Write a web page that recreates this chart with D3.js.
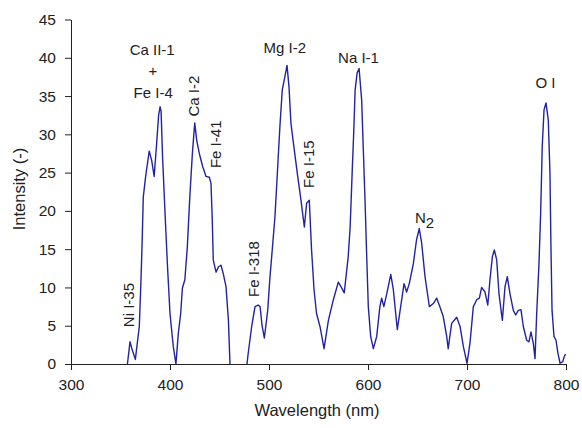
<!DOCTYPE html>
<html>
<head>
<meta charset="utf-8">
<script src="https://cdn.jsdelivr.net/npm/d3@7"></script>
<style>
  body { margin: 0; background: #fff; }
  svg text { font-family: "Liberation Sans", Arial, sans-serif; fill: #222; }
</style>
</head>
<body>
<svg class="chart"></svg>
<script>
// spectrum
var wavelength = [357, 359.6, 361.5, 365, 369, 370.7, 372, 373, 375.4, 379, 381.5, 384, 386.5, 388.5, 390, 391,
  392.5, 395, 397.3, 400, 403.3, 406, 408.4, 410.8, 412.5, 415, 417.5, 420, 422.6, 425, 427, 429.6, 433, 436.4,
  439.7, 441.4, 442.7, 443.7, 446.5, 449, 451.5, 453.8, 456.6, 459, 460.6, 463, 476, 479, 482.5, 485.9, 489, 491,
  493, 495.3, 498.7, 501, 502.7, 506, 508.8, 511, 513.4, 516, 518.2, 520.2, 522.2, 525.6, 529, 532.3, 535.7, 538,
  540.7, 543, 545.5, 548, 551.5, 555.6, 560, 565, 570, 572.7, 576, 580, 582, 584, 585.5, 587, 589, 591, 593.6,
  595.3, 597, 598.7, 600.3, 602.7, 605.4, 608.8, 612, 613.8, 616, 619, 623, 625.6, 629.6, 633, 636.4, 639, 641.7,
  645.8, 649, 651.8, 654.2, 657.6, 662, 666, 669.4, 672, 676, 679.5, 681, 684.5, 689.6, 693, 696.3, 700, 703,
  706.4, 709.8, 712.5, 714.8, 718.2, 721, 723.2, 725.6, 727.6, 730, 732.3, 735.7, 738.4, 740.7, 743.4, 746.8,
  749.2, 751.8, 754.5, 756.9, 760.3, 762.6, 764.6, 767, 768.7, 770.4, 772.7, 774.4, 776, 777.8, 779.8, 782.1,
  783.8, 784.8, 785.9, 787.9, 789.9, 791.9, 794, 796.7, 798.3, 799.5];
var intensity = [0, 2.9, 2.0, 0.6, 4.9, 11, 16.6, 21.8, 24.5, 27.8, 26.6, 24.5, 28.8, 32.5, 33.6, 33,
  27, 19.7, 13.2, 6.6, 2.3, 0, 4, 6.6, 9.9, 11, 15.3, 21.8, 27.5, 31.5, 29.2, 27.5, 25.8, 24.5,
  24.4, 23.6, 18.8, 13.6, 12, 12.7, 12.9, 11.8, 10.1, 5.7, 0, -2, -2, 1.4, 4.9, 7.5, 7.7, 7.5,
  5, 3.4, 7, 11.4, 14, 19.2, 25.8, 31, 35.8, 37.5, 39, 36.2, 31.4, 27.9, 24.5, 21.4, 17.9, 21,
  21.4, 14.9, 9.7, 6.6, 4.9, 2, 5.7, 8.4, 10.7, 10.1, 9.3, 14, 18, 25, 30, 35.8, 38, 38.6, 34.5,
  27.9, 21.4, 14, 7.5, 3.6, 2, 3.6, 7.5, 8.6, 7.5, 9.2, 11.7, 9.7, 4.5, 7.5, 10.5, 9.4, 10.5,
  13.1, 16.2, 17.7, 15.8, 11.4, 7.5, 7.9, 8.6, 7.7, 6.2, 3.6, 2, 5.3, 6.1, 4.9, 2.3, 0.1, 2.7,
  7.5, 8.4, 8.6, 10, 9.4, 7.7, 11, 14, 14.9, 13.6, 9.2, 5.7, 10.1, 11.4, 9.2, 7,
  6.4, 7, 7.1, 4.9, 3.1, 2.9, 4.2, 2.7, 0.7, 6.6, 13.1, 19.7, 28.4, 33.2, 34.1, 31.9,
  24.9, 15.3, 7, 3.6, 3.1, 1.4, 0.1, 0.3, 1, 1.3];

var xTicks = [300, 400, 500, 600, 700, 800];
var yTicks = [0, 5, 10, 15, 20, 25, 30, 35, 40, 45];

// line labels: text, wavelength, intensity, rotated?
var labelText = ["Ca II-1", "+", "Fe I-4", "Ca I-2", "Fe I-41", "Ni I-35", "Fe I-318", "Mg I-2", "Fe I-15", "Na I-1", "O I"];
var labelWl = [382, 382.8, 383, 424.2, 446, 358.6, 484.8, 516, 540.4, 590.4, 779.3];
var labelI = [40.3, 37.6, 34.7, 35.0, 28.7, 7.7, 12.4, 40.6, 26.1, 39.3, 36];
var labelRot = [false, false, false, true, true, true, true, false, true, false, false];

var width = 582,
  height = 428;

var svg = d3.select(".chart")
  .attr("width", width)
  .attr("height", height);

var x = d3.scaleLinear().domain([300, 800]).range([71, 566]);
var y = d3.scaleLinear().domain([0, 45]).range([364, 19.5]);

svg.append("clipPath").attr("id", "plot")
  .append("rect")
  .attr("x", 71).attr("y", 0)
  .attr("width", 495).attr("height", 364);

var points = wavelength.map(function(w, i) { return [w, intensity[i]]; });

var line = d3.line()
  .x(function(d) { return x(d[0]); })
  .y(function(d) { return y(d[1]); });

svg.append("path")
  .datum(points)
  .attr("clip-path", "url(#plot)")
  .attr("fill", "none")
  .attr("stroke", "#2323a0")
  .attr("stroke-width", 1.4)
  .attr("stroke-linejoin", "round")
  .attr("d", line);

// axes
var xAxis = svg.append("g")
  .attr("transform", "translate(0,364)")
  .call(d3.axisBottom(x).tickValues(xTicks).tickSize(6).tickPadding(9).tickSizeOuter(0));

var yAxis = svg.append("g")
  .attr("transform", "translate(71,0)")
  .call(d3.axisLeft(y).tickValues(yTicks).tickSize(6).tickPadding(9).tickSizeOuter(0));

svg.selectAll(".tick text")
  .attr("font-size", 15.5)
  .attr("font-family", "Liberation Sans, Arial, sans-serif")
  .attr("fill", "#222");
svg.selectAll(".domain, .tick line").attr("stroke", "#222");

svg.append("text")
  .attr("x", 317).attr("y", 416)
  .attr("text-anchor", "middle")
  .attr("font-size", 16.5)
  .text("Wavelength (nm)");

svg.append("text")
  .attr("transform", "translate(25,189) rotate(-90)")
  .attr("text-anchor", "middle")
  .attr("font-size", 16.5)
  .text("Intensity (-)");

// peak labels
labelText.forEach(function(t, i) {
  var lx = x(labelWl[i]), ly = y(labelI[i]);
  var txt = svg.append("text")
    .attr("font-size", 15)
    .attr("text-anchor", "middle")
    .text(t);
  if (labelRot[i]) {
    txt.attr("transform", "translate(" + lx + "," + ly + ") rotate(-90)")
      .attr("dy", "0.35em");
  } else {
    txt.attr("x", lx).attr("y", ly);
  }
});

// N2 with subscript
var n2 = svg.append("text")
  .attr("x", x(647.5)).attr("y", y(18.4))
  .attr("font-size", 15);
n2.append("tspan").text("N");
n2.append("tspan").attr("dy", 5).text("2");
</script>
</body>
</html>
